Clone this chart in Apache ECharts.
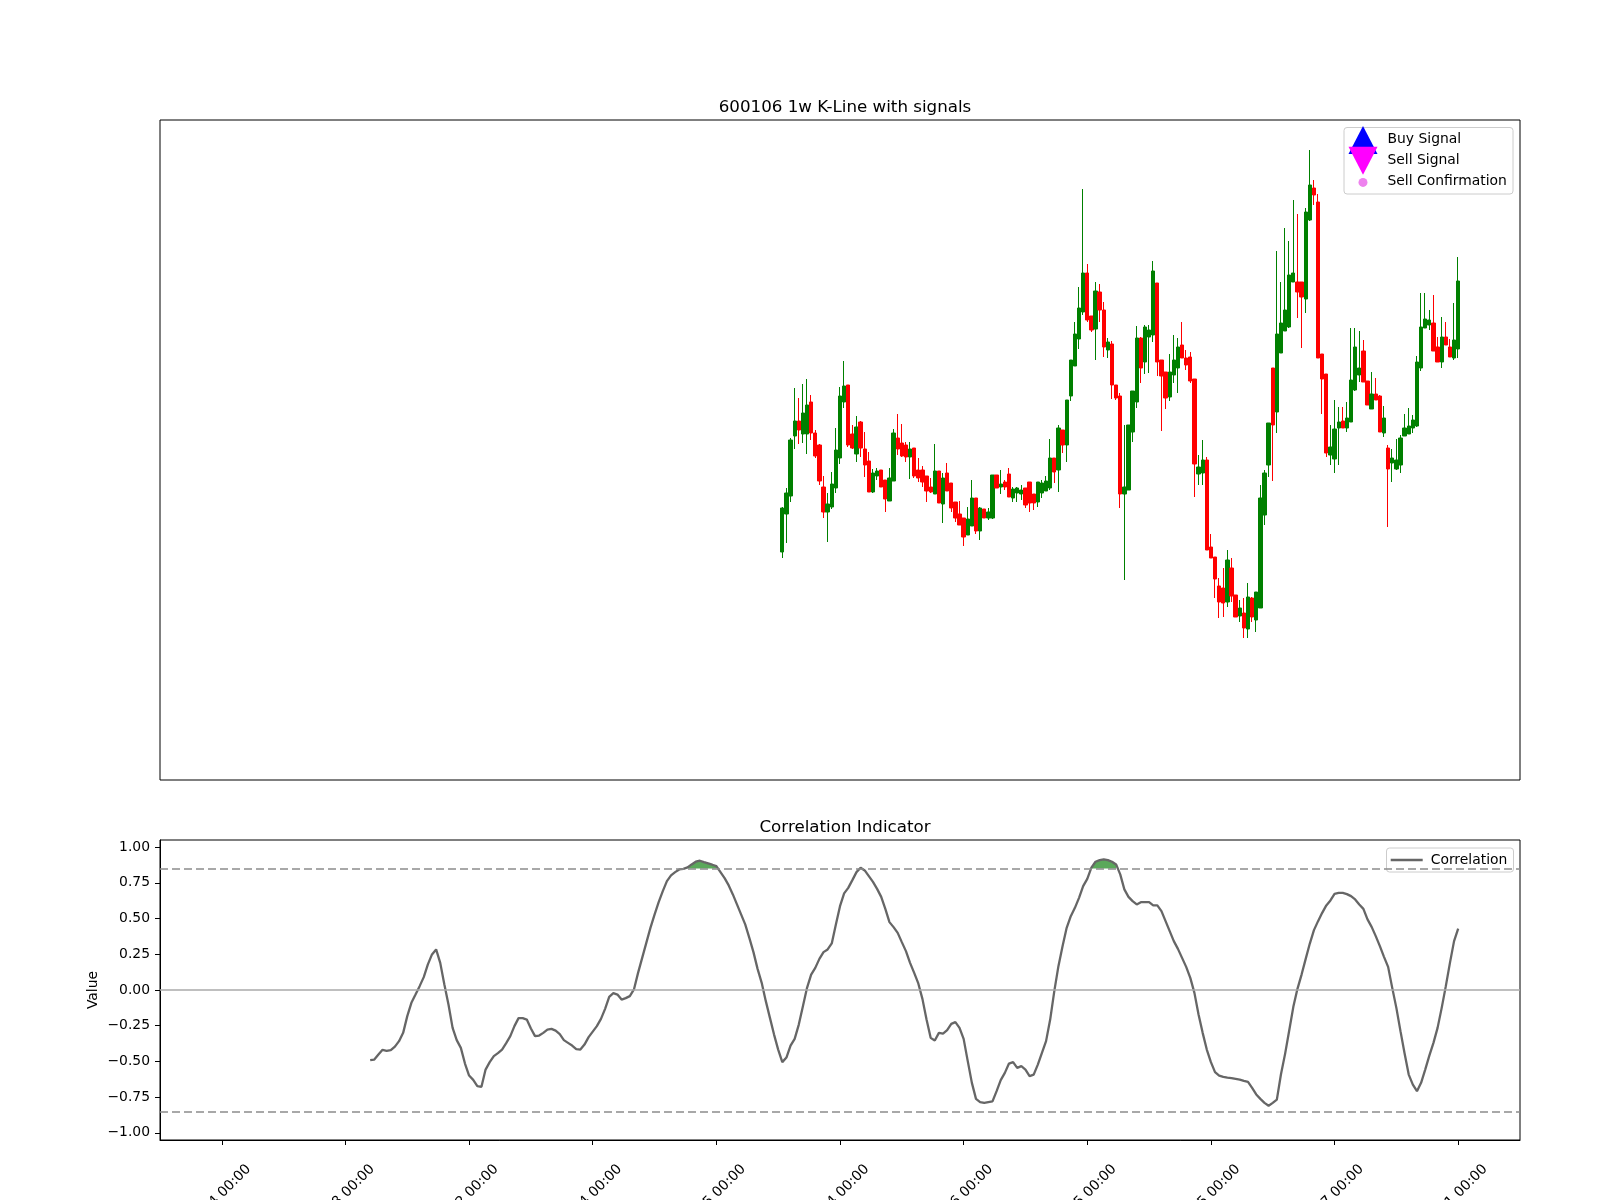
<!DOCTYPE html>
<html><head><meta charset="utf-8">
<script src="https://cdn.jsdelivr.net/npm/echarts@6/dist/echarts.min.js"></script>
<style>html,body{margin:0;padding:0;background:#fff}#c{width:1600px;height:1200px}</style>
</head><body><div id="c"></div>
<script>
// ---- data ----
const candleStart = 136;   // bar index of first candle
const opens = [2.28,2.66,2.84,3.44,3.59,3.46,3.46,3.78,3.47,3.35,2.93,2.68,2.73,2.92,3.22,3.78,3.95,3.46,3.26,3.58,3.31,3.19,2.88,3.04,3.10,3.00,2.79,2.99,3.42,3.37,3.35,3.23,3.32,3.10,3.10,3.04,2.93,2.86,3.09,2.76,3.07,2.97,2.78,2.66,2.62,2.45,2.54,2.82,2.49,2.71,2.62,2.62,3.05,2.93,2.98,
3.06,2.82,2.87,2.86,2.92,2.98,2.86,2.78,2.87,2.89,2.92,3.22,3.10,3.50,3.35,3.84,4.14,4.41,4.68,5.07,4.64,4.51,4.88,4.70,4.30,4.36,3.95,3.84,2.86,
2.90,3.48,3.78,4.42,4.18,4.43,4.45,4.97,4.20,4.08,3.83,4.05,4.12,4.35,4.22,4.23,4.01,3.06,3.07,3.20,2.33,2.23,1.94,1.92,1.78,2.12,1.85,1.64,1.67,1.51,1.82,1.60,1.72,2.65,
3.15,4.12,3.68,4.27,4.49,4.53,4.98,4.98,4.98,4.81,5.60,5.92,5.78,4.26,4.06,3.25,3.21,3.52,3.59,3.52,3.58,3.90,4.05,4.29,3.99,3.71,3.86,3.84,3.47,3.32,3.17,3.11,3.15,3.44,3.46,3.52,3.54,4.12,4.52,4.55,4.57,4.33,4.18,4.43,4.33,4.22,4.31];
const closes = [2.72,2.87,3.40,3.59,3.50,3.67,3.75,3.47,3.24,2.99,2.68,2.76,2.96,3.30,3.84,3.94,3.35,3.32,3.53,3.32,3.15,2.88,3.07,3.09,2.93,2.81,3.02,3.47,3.31,3.24,3.23,3.31,3.04,3.02,2.98,2.89,2.88,3.09,2.77,3.02,2.89,2.72,2.62,2.55,2.43,2.61,2.82,2.49,2.72,2.62,2.68,3.05,2.92,2.96,2.93,
2.83,2.91,2.92,2.90,2.75,2.77,2.77,2.98,2.97,2.99,3.22,3.08,3.52,3.35,3.80,4.20,4.46,4.72,5.07,4.60,4.50,4.89,4.70,4.33,4.38,3.95,3.82,2.86,2.93,
3.55,3.89,4.42,4.12,4.53,4.50,5.09,4.18,4.04,3.82,4.08,4.20,4.33,4.22,4.15,3.99,3.16,3.13,3.20,2.30,2.22,2.01,1.78,1.77,2.20,1.84,1.63,1.72,1.52,1.83,1.63,1.88,2.82,3.07,
3.57,3.55,4.46,4.57,4.70,5.05,5.07,4.88,4.83,5.68,5.95,5.85,4.22,4.01,3.27,3.33,3.51,3.58,3.52,3.62,4.00,4.33,4.12,3.98,3.75,3.86,3.80,3.48,3.62,3.11,3.22,3.20,3.42,3.52,3.54,3.60,4.18,4.53,4.61,4.60,4.29,4.18,4.43,4.35,4.23,4.40,4.99];
const lows = [2.22,2.37,2.78,3.31,3.36,3.37,3.26,3.40,3.22,2.95,2.62,2.38,2.71,2.87,3.16,3.72,3.33,3.31,3.18,3.23,3.03,2.88,2.87,3.00,2.93,2.68,2.79,2.99,3.25,3.23,3.18,3.01,3.02,2.98,2.93,2.78,2.87,2.86,2.77,2.57,2.89,2.68,2.58,2.55,2.34,2.45,2.54,2.46,2.40,2.62,2.60,2.61,2.92,2.86,2.90,
2.83,2.78,2.78,2.80,2.72,2.68,2.70,2.73,2.82,2.89,2.90,2.97,2.88,3.27,3.18,3.79,4.14,4.31,4.65,4.58,4.48,4.20,4.58,4.23,4.22,3.81,3.80,2.72,2.00,
2.90,3.38,3.72,3.97,4.06,4.07,4.38,4.04,3.49,3.71,3.79,3.97,3.87,4.22,4.10,3.97,2.83,2.95,2.95,2.30,2.22,1.82,1.62,1.63,1.73,1.78,1.63,1.58,1.42,1.42,1.58,1.48,1.72,2.55,
3.03,2.99,3.47,4.27,4.49,4.52,4.98,4.62,4.32,4.67,5.59,5.75,4.22,3.66,3.23,3.15,3.07,3.15,3.52,3.48,3.58,3.89,3.98,3.98,3.75,3.71,3.80,3.48,3.43,2.53,2.98,3.10,3.07,3.44,3.46,3.47,3.53,4.09,4.52,4.50,4.29,4.18,4.12,4.35,4.23,4.20,4.22];
const highs = [2.73,2.92,3.42,3.92,3.82,3.96,4.01,3.85,3.50,3.36,3.04,2.87,3.08,3.52,3.93,4.19,3.95,3.55,3.64,3.59,3.48,3.28,3.11,3.12,3.10,3.00,3.12,3.51,3.66,3.56,3.38,3.38,3.32,3.22,3.14,3.04,3.02,3.36,3.09,3.07,3.17,2.97,2.78,2.79,2.62,2.73,3.00,2.82,2.73,2.71,2.72,3.05,3.05,3.10,3.00,
3.12,2.93,2.93,2.95,2.92,2.98,2.86,2.98,3.00,3.04,3.41,3.22,3.55,3.50,3.80,4.20,4.58,4.93,5.91,5.16,4.64,4.98,4.96,4.78,4.42,4.39,3.95,3.87,3.55,
3.55,3.89,4.54,4.43,4.55,4.55,5.19,4.97,4.20,4.08,4.26,4.45,4.42,4.58,4.30,4.28,4.01,3.25,3.40,3.23,2.46,2.23,2.02,2.12,2.30,2.22,1.85,1.80,1.82,1.97,1.83,1.88,2.95,3.10,
3.57,4.12,5.29,4.98,5.52,5.39,5.80,5.66,4.98,5.72,6.30,6.00,5.86,4.26,4.06,3.55,3.80,3.73,3.73,3.78,4.52,4.52,4.49,4.40,3.99,4.08,4.02,3.85,3.74,3.35,3.31,3.41,3.45,3.66,3.72,3.65,4.24,4.87,4.87,4.70,4.85,4.43,4.63,4.58,4.41,4.77,5.23];

const corrStart = 36;      // bar index of first correlation value
const correlation = [-0.491,-0.487,-0.452,-0.419,-0.426,-0.421,-0.396,-0.358,-0.300,-0.183,
-0.090,-0.032,0.027,0.090,0.179,0.249,0.284,0.190,0.039,-0.102,
-0.265,-0.351,-0.405,-0.515,-0.599,-0.629,-0.673,-0.678,-0.557,-0.505,
-0.463,-0.442,-0.417,-0.372,-0.323,-0.253,-0.197,-0.197,-0.207,-0.270,
-0.323,-0.319,-0.300,-0.277,-0.272,-0.284,-0.309,-0.351,-0.370,-0.389,
-0.414,-0.417,-0.382,-0.330,-0.291,-0.253,-0.202,-0.132,-0.048,-0.022,
-0.032,-0.067,-0.057,-0.043,0.004,0.120,0.225,0.330,0.435,0.528,
0.615,0.692,0.762,0.802,0.825,0.844,0.848,0.858,0.879,0.898,
0.905,0.895,0.886,0.877,0.867,0.825,0.783,0.732,0.669,0.599,
0.529,0.459,0.365,0.265,0.148,0.050,-0.078,-0.195,-0.312,-0.417,
-0.505,-0.473,-0.389,-0.342,-0.242,-0.113,0.015,0.108,0.155,0.218,
0.265,0.284,0.326,0.459,0.587,0.676,0.715,0.769,0.825,0.856,
0.837,0.797,0.757,0.708,0.652,0.568,0.475,0.440,0.400,0.335,
0.272,0.190,0.120,0.046,-0.062,-0.207,-0.335,-0.354,-0.300,-0.305,
-0.281,-0.237,-0.225,-0.265,-0.342,-0.498,-0.650,-0.762,-0.785,-0.790,
-0.785,-0.780,-0.708,-0.631,-0.580,-0.515,-0.505,-0.545,-0.533,-0.557,
-0.603,-0.592,-0.522,-0.440,-0.358,-0.207,-0.008,0.167,0.307,0.435,
0.517,0.575,0.645,0.727,0.778,0.856,0.898,0.909,0.914,0.909,
0.898,0.879,0.809,0.704,0.652,0.622,0.599,0.615,0.615,0.615,
0.592,0.592,0.552,0.482,0.412,0.342,0.288,0.225,0.162,0.085,
-0.020,-0.172,-0.300,-0.417,-0.505,-0.575,-0.599,-0.608,-0.613,-0.617,
-0.622,-0.627,-0.636,-0.643,-0.685,-0.731,-0.762,-0.790,-0.810,-0.790,
-0.767,-0.590,-0.447,-0.283,-0.118,0.008,0.108,0.218,0.325,0.419,
0.482,0.540,0.592,0.627,0.673,0.680,0.680,0.671,0.657,0.634,
0.599,0.568,0.494,0.442,0.377,0.307,0.232,0.162,0.015,-0.125,
-0.288,-0.445,-0.592,-0.662,-0.708,-0.650,-0.557,-0.459,-0.370,-0.265,
-0.125,0.027,0.190,0.342,0.430];

const tickLabels = ['2019-01-04 00:00','2019-08-08 00:00','2020-03-12 00:00','2020-10-14 00:00','2021-05-15 00:00','2021-12-14 00:00','2022-07-16 00:00','2023-02-15 00:00','2023-09-15 00:00','2024-04-17 00:00','2024-11-21 00:00'];
const tickStep = 30;
const lastIndex = 300;
const upperThreshold = 0.85;
const lowerThreshold = -0.85;
const yTicks = [-1, -0.75, -0.5, -0.25, 0, 0.25, 0.5, 0.75, 1];

// ---- layout helpers ----
const pad = 15;            // matplotlib 5% x-margin, in bars
const labelShiftPx = 27;
const pxPerBar = 1360 / (lastIndex + 2 * pad);
const labelShift = labelShiftPx / pxPerBar;
const FONT = 'DejaVu Sans';

const categories = [];
for (let i = -pad; i <= lastIndex + pad; i++) categories.push(String(i));
const tickValues = tickLabels.map((_, k) => k * tickStep);

const candleData = opens.map((o, k) => [candleStart + k + pad, o, closes[k], lows[k], highs[k]]);
const corrData = correlation.map((v, k) => [corrStart + k + pad, v]);
const fillData = correlation.map((v, k) => [corrStart + k + pad, v > upperThreshold ? v : '-']);

const chart = echarts.init(document.getElementById('c'), null, {renderer: 'canvas'});
const txt = {fontFamily: FONT, color: '#000', fontSize: 13.9};
chart.setOption({
  animation: false,
  backgroundColor: '#ffffff',
  textStyle: {fontFamily: FONT},
  title: [
    {text: '600106 1w K-Line with signals', left: 840, top: 93, textAlign: 'center',
     textStyle: {fontFamily: FONT, fontSize: 16.7, fontWeight: 'normal', color: '#000', lineHeight: 20}},
    {text: 'Correlation Indicator', left: 840, top: 813, textAlign: 'center',
     textStyle: {fontFamily: FONT, fontSize: 16.7, fontWeight: 'normal', color: '#000', lineHeight: 20}}
  ],
  grid: [
    {left: 160, top: 120, width: 1360, height: 660, show: true, borderColor: '#000', borderWidth: 1,
     containLabel: false, outerBoundsMode: 'none'},
    {left: 160, top: 840, width: 1360, height: 300, show: true, borderColor: '#000', borderWidth: 1,
     containLabel: false, outerBoundsMode: 'none'}
  ],
  xAxis: [
    {type: 'category', gridIndex: 0, data: categories, boundaryGap: false, show: false},
    {type: 'category', gridIndex: 1, data: categories, boundaryGap: false, position: 'bottom',
     axisLine: {show: true, onZero: false, lineStyle: {color: '#000', width: 1}},
     axisTick: {show: true, length: 5, lineStyle: {color: '#000', width: 1},
       interval: function (idx) { const i = idx - pad; return i >= 0 && i <= lastIndex && i % tickStep === 0; }},
     axisLabel: {show: false}, splitLine: {show: false}},
    {type: 'value', gridIndex: 1, position: 'bottom', min: -pad - labelShift, max: lastIndex + pad - labelShift,
     axisLine: {show: false}, axisTick: {show: false}, splitLine: {show: false},
     axisLabel: Object.assign({customValues: tickValues, rotate: 45, margin: 27,
       formatter: function (v) { return tickLabels[Math.round(v / tickStep)]; }}, txt)}
  ],
  yAxis: [
    {type: 'value', gridIndex: 0, min: 0, max: 6.6, show: false},
    {type: 'value', gridIndex: 1, min: -1.05, max: 1.05,
     name: 'Value', nameLocation: 'middle', nameGap: 60, nameMoveOverlap: false, nameTextStyle: txt,
     axisLine: {show: true, onZero: false, lineStyle: {color: '#000', width: 1}},
     axisTick: {show: true, length: 5, customValues: yTicks, lineStyle: {color: '#000'}},
     axisLabel: Object.assign({customValues: yTicks, margin: 10,
       formatter: function (v) { return (v < 0 ? '\u2212' : '') + Math.abs(v).toFixed(2); }}, txt),
     splitLine: {show: false}}
  ],
  legend: [
    {orient: 'vertical', left: 1343.5, top: 125, padding: 0, itemGap: -8.3, itemWidth: 39, itemHeight: 29,
     selectedMode: false, z: 6, textStyle: txt,
     data: [
       {name: 'Buy Signal', icon: 'path://M0,0M39,29M5,29L19.5,1L34,29Z', itemStyle: {color: '#0000ff', opacity: 1}},
       {name: 'Sell Signal', icon: 'path://M0,0M39,29M5,1L34,1L19.5,29Z', itemStyle: {color: '#ff00ff', opacity: 1}},
       {name: 'Sell Confirmation', icon: 'path://M0,0M39,29M15,16A4.5,4.5,0,1,1,24,16A4.5,4.5,0,1,1,15,16Z', itemStyle: {color: '#ee82ee', opacity: 1}}
     ]},
    {orient: 'vertical', left: 1390.7, top: 851.5, padding: 0, itemWidth: 35, itemHeight: 17,
     selectedMode: false, z: 6, textStyle: txt,
     data: [{name: 'Correlation', icon: 'path://M0,0M35,17M0,7.25L32,7.25L32,9.75L0,9.75Z', itemStyle: {color: '#666666'}}]}
  ],
  graphic: [
    {type: 'rect', z: 5, shape: {x: 1344, y: 127.5, width: 169, height: 66.5, r: 3},
     style: {fill: 'rgba(255,255,255,0.8)', stroke: '#cccccc', lineWidth: 1}},
    {type: 'rect', z: 5, shape: {x: 1386.5, y: 848, width: 127, height: 24, r: 3},
     style: {fill: 'rgba(255,255,255,0.8)', stroke: '#cccccc', lineWidth: 1}}
  ],
  series: [
    {type: 'candlestick', name: 'K-Line', xAxisIndex: 0, yAxisIndex: 0, data: candleData,
     encode: {x: 0, y: [1, 2, 3, 4]}, barWidth: 3.8,
     itemStyle: {color: '#008000', color0: '#ff0000', borderColor: '#008000', borderColor0: '#ff0000', borderWidth: 1}},
    {type: 'scatter', name: 'Buy Signal', xAxisIndex: 0, yAxisIndex: 0, data: [], itemStyle: {color: '#0000ff'}},
    {type: 'scatter', name: 'Sell Signal', xAxisIndex: 0, yAxisIndex: 0, data: [], itemStyle: {color: '#ff00ff'}},
    {type: 'scatter', name: 'Sell Confirmation', xAxisIndex: 0, yAxisIndex: 0, data: [], itemStyle: {color: '#ee82ee'}},
    {type: 'line', name: 'fill', xAxisIndex: 1, yAxisIndex: 1, data: fillData, symbol: 'none', z: 1,
     lineStyle: {width: 0, opacity: 0}, areaStyle: {origin: upperThreshold, color: '#5aa85a', opacity: 1}},
    {type: 'line', name: 'Correlation', xAxisIndex: 1, yAxisIndex: 1, data: corrData, symbol: 'none', z: 3,
     lineStyle: {color: '#666666', width: 2.3},
     markLine: {silent: true, symbol: 'none', label: {show: false}, animation: false,
       data: [
         {yAxis: 0, lineStyle: {color: '#aaaaaa', width: 1.5, type: 'solid'}},
         {yAxis: upperThreshold, lineStyle: {color: '#8c8c8c', width: 1.5, type: [8, 4]}},
         {yAxis: lowerThreshold, lineStyle: {color: '#8c8c8c', width: 1.5, type: [8, 4]}}
       ]}}
  ]
});
</script>
</body></html>
